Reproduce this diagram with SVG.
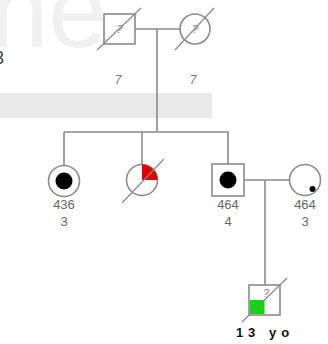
<svg xmlns="http://www.w3.org/2000/svg" width="328" height="344" viewBox="0 0 328 344">
  <style>
    .ln { stroke: #8a8a8a; stroke-width: 1.6; fill: none; }
    .sym { stroke: #8a8a8a; stroke-width: 1.6; fill: #ffffff; }
    .dx { stroke: #8a8a8a; stroke-width: 1.2; }
    .lbl { font-family: "Liberation Sans", Arial, sans-serif; font-size: 13px; fill: #666666; text-anchor: middle; }
    .age { font-family: "Liberation Sans", Arial, sans-serif; font-size: 12px; font-style: italic; fill: #777777; text-anchor: middle; }
    .q { font-family: "Liberation Sans", Arial, sans-serif; font-size: 11px; font-style: italic; fill: #888888; text-anchor: middle; }
  </style>

  <!-- background -->
  <rect x="0" y="0" width="328" height="344" fill="#ffffff"/>
  <text x="-10" y="47" font-family="Liberation Sans, Arial, sans-serif" font-size="105" fill="#f0f0f0">ne</text>
  <text x="-6" y="64" font-family="Liberation Sans, Arial, sans-serif" font-size="18" fill="#444444">3</text>
  <rect x="0" y="93" width="212" height="25" fill="#e9e9e9"/>

  <!-- connectors -->
  <g id="connectors">
    <line class="ln" x1="135" y1="29" x2="180" y2="29"/>
    <line class="ln" x1="157" y1="29" x2="157" y2="132"/>
    <line class="ln" x1="64" y1="132" x2="229" y2="132"/>
    <line class="ln" x1="64" y1="132" x2="64" y2="165"/>
    <line class="ln" x1="142" y1="132" x2="142" y2="164"/>
    <line class="ln" x1="228" y1="132" x2="228" y2="164"/>
    <line class="ln" x1="244" y1="180" x2="290" y2="180"/>
    <line class="ln" x1="265" y1="180" x2="265" y2="285"/>
  </g>

  <!-- grandfather -->
  <g id="grandfather">
    <rect class="sym" x="104" y="14" width="31" height="30"/>
    <text class="q" x="119.5" y="33">?</text>
    <line class="dx" x1="97" y1="50" x2="141" y2="8"/>
    <text class="age" x="118" y="84">7</text>
  </g>

  <!-- grandmother -->
  <g id="grandmother">
    <circle class="sym" cx="195" cy="29" r="15"/>
    <text class="q" x="195" y="33">?</text>
    <line class="dx" x1="175" y1="50" x2="214" y2="8"/>
    <text class="age" x="193" y="84">7</text>
  </g>

  <!-- sister 436 -->
  <g id="sister">
    <circle class="sym" cx="64" cy="181" r="15.5"/>
    <circle cx="64" cy="181" r="8.5" fill="#000000"/>
    <text class="lbl" x="64" y="209">436</text>
    <text class="lbl" x="64" y="226">3</text>
  </g>

  <!-- deceased sister -->
  <g id="deceased-sister">
    <circle class="sym" cx="142" cy="180" r="15.5"/>
    <path d="M142,180 L142,164.5 A15.5,15.5 0 0 1 157.5,180 Z" fill="#e00000"/>
    <line class="dx" x1="122" y1="203" x2="164" y2="159"/>
  </g>

  <!-- father 464 -->
  <g id="father">
    <rect class="sym" x="212" y="164" width="32" height="32"/>
    <circle cx="228" cy="180" r="8.5" fill="#000000"/>
    <text class="lbl" x="228" y="209">464</text>
    <text class="lbl" x="228" y="226">4</text>
  </g>

  <!-- mother 464 -->
  <g id="mother">
    <circle class="sym" cx="305" cy="180" r="15.5"/>
    <circle cx="312.5" cy="189" r="3" fill="#000000"/>
    <text class="lbl" x="305" y="209">464</text>
    <text class="lbl" x="305" y="226">3</text>
  </g>

  <!-- proband -->
  <g id="proband">
    <rect class="sym" x="249" y="285" width="31" height="30"/>
    <rect x="250" y="300" width="14.5" height="14" fill="#00dd00"/>
    <line class="dx" x1="242" y1="322" x2="287" y2="278"/>
    <text class="q" x="266" y="297" font-size="8">?</text>
    <text x="265" y="337" font-family="Liberation Sans, Arial, sans-serif" font-size="13" font-weight="bold" fill="#111111" text-anchor="middle" letter-spacing="5">13 yo</text>
  </g>
</svg>
